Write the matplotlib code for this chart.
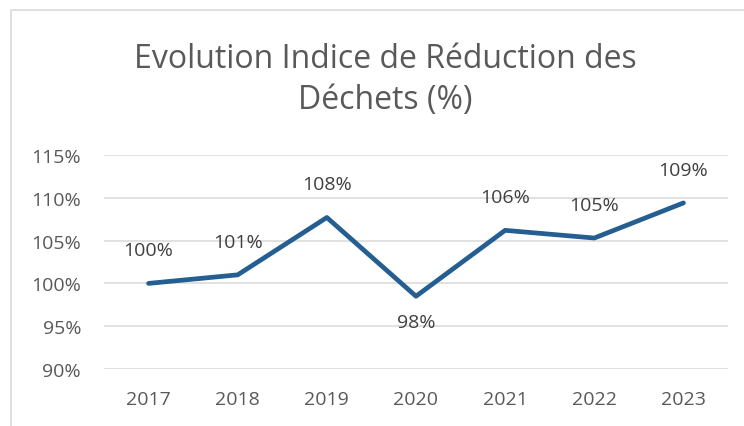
import matplotlib
matplotlib.use("Agg")
import matplotlib.pyplot as plt
from matplotlib.patches import Rectangle
import numpy as np

years = ["2017", "2018", "2019", "2020", "2021", "2022", "2023"]
values = [100.0, 101.0, 107.7, 98.5, 106.2, 105.3, 109.4]
labels = ["100%", "101%", "108%", "98%", "106%", "105%", "109%"]
yticks = [90, 95, 100, 105, 110, 115]

plt.rcParams['font.family'] = ['Open Sans', 'DejaVu Sans']
W, H = 744, 427
fig = plt.figure(figsize=(W/100, H/100), dpi=100)
fig.patch.set_facecolor('white')

# chart frame
fig.patches.append(Rectangle((11/W, -0.1), 1.2, 1 - 11/H + 0.1, transform=fig.transFigure,
                             fill=False, edgecolor='#D9D9D9', linewidth=1.2))

ax = fig.add_axes([104/W, 1 - 370/H, (728-104)/W, (370-156)/H])
x = np.arange(len(years))
ax.plot(x, values, color='#255E91', linewidth=3.4, solid_capstyle='round', solid_joinstyle='round', zorder=3)

ax.set_xlim(-0.5, len(years) - 0.5)
ax.set_ylim(90, 115)
ax.set_yticks(yticks)
ax.set_yticklabels([f"{v}%" for v in yticks])
ax.set_xticks(x)
ax.set_xticklabels(years)
ax.yaxis.grid(True, color='#D9D9D9', linewidth=1.1)
ax.set_axisbelow(True)
for s in ax.spines.values():
    s.set_visible(False)
ax.tick_params(axis='both', length=0, labelsize=14, labelcolor='#595959')
ax.tick_params(axis='y', pad=16.5)
ax.tick_params(axis='x', pad=15)

for i, (v, lab) in enumerate(zip(values, labels)):
    if i == 3:
        ax.annotate(lab, (i, v), xytext=(0, -26), textcoords='offset pixels',
                    ha='center', va='center', fontsize=14, color='#404040')
    else:
        ax.annotate(lab, (i, v), xytext=(0, 33), textcoords='offset pixels',
                    ha='center', va='center', fontsize=14, color='#404040')

fig.text(385/W, 1 - 60/H, "Evolution Indice de Réduction des", ha='center', va='center',
         fontsize=23, color='#595959')
fig.text(385/W, 1 - 101/H, "Déchets (%)", ha='center', va='center',
         fontsize=23, color='#595959')

fig.savefig("out.png", dpi=100)
